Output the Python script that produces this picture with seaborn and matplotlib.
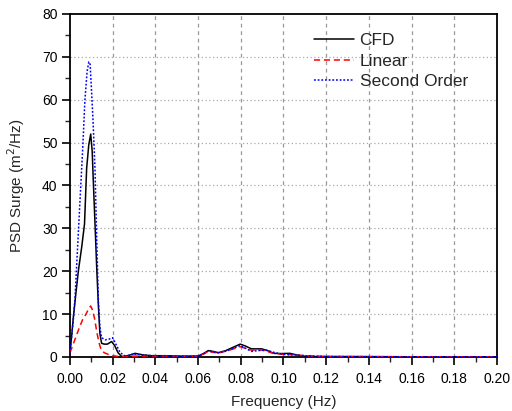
import matplotlib
matplotlib.use("Agg")
import matplotlib.pyplot as plt
import seaborn as sns
import numpy as np
import pandas as pd
from matplotlib.ticker import MultipleLocator

# ---- data ----
freq_cfd = [0.000, 0.0008, 0.0016, 0.0028, 0.0039, 0.0055, 0.0068, 0.0078, 0.0088, 0.0097,
            0.0104, 0.0110, 0.0118, 0.0125, 0.0133, 0.0140, 0.0148, 0.0160, 0.0175, 0.0195,
            0.0210, 0.0225, 0.0242, 0.0270, 0.0305, 0.0340, 0.0380, 0.0450, 0.0520, 0.0600,
            0.0625, 0.0648, 0.0670, 0.0695, 0.0730, 0.0770, 0.0797, 0.0820, 0.0850, 0.0898,
            0.0930, 0.0953, 0.0990, 0.1030, 0.1060, 0.1090, 0.1150, 0.1300, 0.1600, 0.2000]
psd_cfd = [1.0, 5.0, 9.4, 15.0, 20.0, 25.7, 31.0, 44.0, 49.5, 52.0,
           48.0, 40.0, 30.0, 21.0, 12.0, 5.5, 3.2, 3.0, 3.0, 3.6,
           2.6, 1.0, 0.1, 0.3, 0.85, 0.5, 0.3, 0.3, 0.2, 0.2,
           0.8, 1.5, 1.3, 1.0, 1.5, 2.4, 3.0, 2.6, 1.9, 1.9,
           1.4, 0.85, 0.8, 0.85, 0.5, 0.2, 0.1, 0.1, 0.05, 0.05]

freq_lin = [0.000, 0.0015, 0.0030, 0.0045, 0.0060, 0.0075, 0.0088, 0.0097, 0.0105, 0.0115,
            0.0125, 0.0135, 0.0145, 0.0160, 0.0180, 0.0200, 0.0230, 0.0270, 0.0300, 0.0400,
            0.0500, 0.0600, 0.0625, 0.0648, 0.0695, 0.0740, 0.0797, 0.0850, 0.0900, 0.0950,
            0.1000, 0.1050, 0.1100, 0.1200, 0.1600, 0.2000]
psd_lin = [1.0, 3.0, 5.0, 7.0, 8.8, 10.0, 11.3, 11.9, 11.0, 9.0,
           6.0, 3.5, 1.8, 1.0, 0.6, 0.3, 0.1, 0.1, 0.2, 0.2,
           0.2, 0.2, 0.7, 1.3, 0.9, 1.5, 2.4, 1.6, 1.6, 0.9,
           0.6, 0.5, 0.3, 0.1, 0.05, 0.05]

freq_sec = [0.000, 0.0008, 0.0016, 0.0023, 0.0035, 0.0047, 0.0060, 0.0070, 0.0080, 0.0088,
            0.0094, 0.0100, 0.0108, 0.0117, 0.0125, 0.0133, 0.0140, 0.0148, 0.0165, 0.0185,
            0.0200, 0.0215, 0.0235, 0.0260, 0.0300, 0.0340, 0.0400, 0.0500, 0.0600, 0.0625,
            0.0648, 0.0695, 0.0740, 0.0797, 0.0850, 0.0880, 0.0920, 0.0960, 0.1000, 0.1050,
            0.1100, 0.1200, 0.1600, 0.2000]
psd_sec = [1.0, 5.0, 9.0, 13.3, 25.0, 36.6, 49.0, 60.0, 66.5, 68.8,
           68.5, 63.0, 55.0, 44.0, 28.0, 13.0, 7.0, 4.5, 4.0, 4.2,
           4.5, 3.0, 1.0, 0.2, 0.7, 0.4, 0.3, 0.2, 0.2, 0.7,
           1.4, 1.0, 1.5, 2.7, 1.3, 1.5, 1.6, 1.0, 0.6, 0.5,
           0.3, 0.1, 0.05, 0.05]

series_names = ["CFD", "Linear", "Second Order"]
x_ticks = [0.00, 0.02, 0.04, 0.06, 0.08, 0.10, 0.12, 0.14, 0.16, 0.18, 0.20]
y_ticks = [0, 10, 20, 30, 40, 50, 60, 70, 80]

sns.set_style("white")
plt.rcParams['font.family'] = ['Liberation Sans', 'DejaVu Sans']

fig = plt.figure(figsize=(5.12, 4.11), dpi=100)
ax = fig.add_axes([0.1367, 0.1314, 0.834, 0.8346])

styles = [dict(color="black", lw=1.1, ls="-"),
          dict(color="#ff0000", lw=1.1, ls=(0, (4, 2.5))),
          dict(color="#0000ff", lw=1.1, ls=(0, (1.2, 1.2)))]
data = [(freq_cfd, psd_cfd), (freq_lin, psd_lin), (freq_sec, psd_sec)]
for name, (fx, py), st in zip(series_names, data, styles):
    sns.lineplot(x=fx, y=py, ax=ax, label=name, color=st["color"],
                 linewidth=st["lw"], linestyle=st["ls"], zorder=3)

ax.set_xlim(0, 0.20)
ax.set_ylim(0, 80)
ax.set_xticks(x_ticks)
ax.set_xticklabels([f"{v:.2f}" for v in x_ticks])
ax.set_yticks(y_ticks)
ax.xaxis.set_minor_locator(MultipleLocator(0.01))
ax.yaxis.set_minor_locator(MultipleLocator(5))
ax.tick_params(which="major", direction="out", length=6, width=1.2, labelsize=10,
               bottom=True, left=True, top=False, right=False, pad=3, colors="black")
ax.tick_params(which="minor", direction="out", length=3.5, width=1.0,
               bottom=True, left=True, top=False, right=False)
ax.tick_params(axis="x", which="major", pad=5)

for x in x_ticks[1:-1]:
    ax.axvline(x, color="#999999", lw=0.9, ls=(0, (3, 3)), zorder=1)
for y in y_ticks[1:-1]:
    ax.axhline(y, color="#aaaaaa", lw=0.9, ls=(0, (1, 2)), zorder=1)

for s in ax.spines.values():
    s.set_linewidth(1.3)
    s.set_color("black")

ax.set_xlabel("Frequency (Hz)", fontsize=11, labelpad=6)
ax.set_ylabel("PSD Surge (m$^2$/Hz)", fontsize=11, labelpad=11)

leg = ax.legend(loc="upper right", bbox_to_anchor=(0.948, 0.964), frameon=False,
                fontsize=12.5, handlelength=2.3, handletextpad=0.3, labelspacing=0.3,
                borderaxespad=0)

fig.savefig("out.png", dpi=100)
